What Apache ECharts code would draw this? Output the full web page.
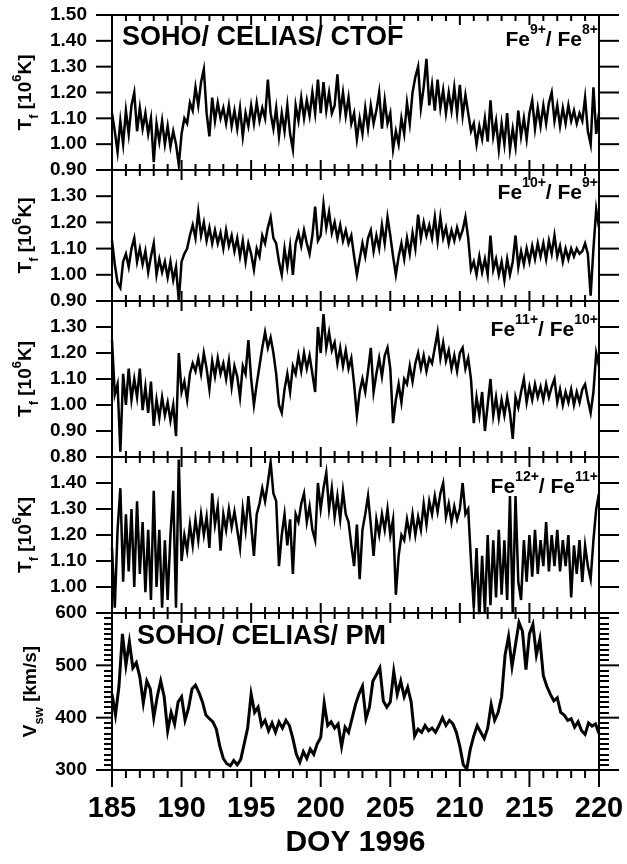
<!DOCTYPE html>
<html>
<head>
<meta charset="utf-8">
<script src="https://cdn.jsdelivr.net/npm/echarts@6/dist/echarts.min.js"></script>
<style>
  html, body { margin: 0; padding: 0; background: #fff; }
  #main { width: 627px; height: 864px; }
</style>
</head>
<body>
<div id="main"></div>
<script>
// sampling of the traces (day of year 1996)
const t0 = 185;
const dtFe = 0.2;   // Fe freeze-in temperatures
const dtV = 0.25;   // proton speed

// Fe9+/Fe8+
const fe98 = [
  1.12,1.05,0.97,1.09,1.00, 1.13,1.04,1.15,1.20,1.05, 1.14,1.06,1.12,1.04,1.10,
  0.93,1.08,1.01,1.09,1.00, 1.07,0.99,1.05,1.00,0.92, 1.04,1.10,1.08,1.16,1.13,
  1.22,1.15,1.24,1.29,1.12, 1.03,1.18,1.09,1.16,1.10, 1.14,1.08,1.15,1.07,1.13,
  1.06,1.14,1.03,1.12,1.07, 1.15,1.08,1.16,1.09,1.14, 1.10,1.25,1.12,1.06,1.14,
  1.03,1.12,1.05,1.15,1.04, 0.98,1.15,1.09,1.18,1.10, 1.17,1.11,1.20,1.12,1.25,
  1.12,1.24,1.13,1.20,1.12, 1.15,1.27,1.12,1.20,1.11, 1.18,1.08,1.12,1.02,1.10,
  1.04,1.14,1.06,1.15,1.08, 1.13,1.20,1.06,1.17,1.08, 1.12,0.98,1.05,1.00,1.10,
  1.04,1.16,1.08,1.20,1.26, 1.30,1.14,1.22,1.33,1.15, 1.23,1.13,1.25,1.14,1.21,
  1.12,1.20,1.13,1.22,1.12, 1.23,1.11,1.19,1.12,1.05, 1.08,1.00,1.07,1.02,1.10,
  1.01,1.17,1.03,1.09,0.98, 1.08,1.00,1.12,0.98,1.06, 0.99,1.13,1.03,1.10,1.02,
  1.12,1.17,1.06,1.14,1.07, 1.15,1.08,1.16,1.20,1.09, 1.15,1.07,1.14,1.08,1.15,
  1.09,1.13,1.08,1.12,1.09, 1.18,1.05,1.00,1.22,1.04, 1.12
];

// Fe10+/Fe9+
const fe109 = [
  1.13,1.04,0.97,0.95,1.05, 1.08,1.03,1.10,1.14,1.05, 1.10,1.04,1.09,1.01,1.07,
  1.12,1.00,1.06,1.01,1.05, 0.99,1.05,0.98,1.03,0.90, 1.05,1.08,1.10,1.15,1.19,
  1.14,1.24,1.15,1.20,1.13, 1.18,1.12,1.17,1.12,1.16, 1.10,1.17,1.11,1.15,1.09,
  1.14,1.07,1.13,1.05,1.12, 1.08,1.02,1.10,1.07,1.15, 1.12,1.18,1.22,1.14,1.12,
  1.05,1.00,1.10,1.03,1.11, 1.00,1.12,1.16,1.11,1.17, 1.12,1.08,1.15,1.26,1.13,
  1.15,1.27,1.18,1.24,1.16, 1.20,1.14,1.19,1.13,1.17, 1.12,1.15,1.07,1.00,1.06,
  1.12,1.07,1.14,1.17,1.09, 1.15,1.10,1.19,1.12,1.22, 1.15,1.07,1.00,1.07,1.12,
  1.06,1.14,1.08,1.16,1.10, 1.23,1.14,1.20,1.15,1.19, 1.14,1.22,1.13,1.22,1.14,
  1.18,1.12,1.17,1.13,1.18, 1.14,1.17,1.22,1.14,1.02, 1.05,1.00,1.07,1.01,1.06,
  1.00,1.15,1.02,1.06,1.00, 1.05,0.98,1.06,1.00,1.05, 1.15,1.03,1.09,1.04,1.10,
  1.05,1.11,1.06,1.12,1.07, 1.12,1.06,1.13,1.08,1.15, 1.07,1.11,1.05,1.10,1.06,
  1.10,1.07,1.10,1.08,1.09, 1.12,1.08,0.92,1.10,1.25, 1.18
];

// Fe11+/Fe10+
const fe1110 = [
  1.25,1.04,1.08,0.82,1.12, 1.00,1.14,1.02,1.10,1.03, 1.14,0.98,1.07,0.97,1.09,
  0.92,1.02,0.95,1.03,0.96, 1.01,0.94,1.00,0.88,1.20, 1.05,1.09,1.02,1.12,1.16,
  1.13,1.18,1.12,1.20,1.14, 1.06,1.17,1.11,1.18,1.12, 1.16,1.10,1.17,1.07,1.15,
  1.11,1.03,1.15,1.12,1.25, 1.10,1.00,1.08,1.15,1.22, 1.28,1.22,1.26,1.20,1.12,
  1.00,0.97,1.06,1.12,1.05, 1.15,1.12,1.19,1.13,1.20, 1.14,1.19,1.12,1.05,1.30,
  1.20,1.35,1.22,1.28,1.21, 1.24,1.16,1.22,1.15,1.21, 1.14,1.18,1.08,0.96,1.05,
  1.10,1.05,1.13,1.22,1.05, 1.12,1.18,1.11,1.19,1.22, 1.14,0.93,1.02,1.08,1.01,
  1.10,1.08,1.15,1.09,1.16, 1.20,1.14,1.19,1.13,1.18, 1.16,1.22,1.28,1.18,1.24,
  1.17,1.21,1.14,1.19,1.13, 1.20,1.22,1.14,1.18,1.10, 0.93,1.03,0.96,1.05,0.90,
  1.00,1.10,0.96,1.03,0.95, 1.02,0.96,1.03,0.97,0.87, 1.03,0.99,1.05,1.10,1.01,
  1.07,1.02,1.08,1.03,1.07, 1.02,1.08,1.03,1.07,1.10, 1.01,1.06,1.00,1.05,1.01,
  1.06,1.00,1.05,1.01,1.06, 1.08,1.02,0.97,1.05,1.20, 1.15
];

// Fe12+/Fe11+
const fe1211 = [
  1.15,0.92,1.22,1.38,1.02, 1.28,1.06,1.30,1.00,1.33, 1.05,1.25,0.98,1.22,0.95,
  1.37,1.00,1.22,0.92,1.18, 0.95,1.20,1.37,0.92,1.49, 1.10,1.20,1.14,1.24,1.16,
  1.26,1.18,1.28,1.20,1.27, 1.15,1.36,1.24,1.31,1.14, 1.28,1.22,1.30,1.23,1.29,
  1.22,1.15,1.30,1.22,1.35, 1.24,1.12,1.28,1.32,1.38, 1.33,1.40,1.48,1.36,1.33,
  1.08,1.20,1.28,1.16,1.26, 1.05,1.28,1.25,1.32,1.36, 1.25,1.31,1.22,1.18,1.40,
  1.30,1.38,1.44,1.30,1.38, 1.27,1.35,1.26,1.37,1.28, 1.25,1.16,1.08,1.24,1.03,
  1.22,1.28,1.35,1.24,1.12, 1.26,1.20,1.28,1.22,1.30, 1.20,1.26,0.97,1.12,1.20,
  1.18,1.26,1.20,1.28,1.20, 1.27,1.22,1.32,1.24,1.33, 1.28,1.35,1.29,1.36,1.40,
  1.27,1.32,1.25,1.31,1.26, 1.30,1.40,1.28,1.30,1.10, 0.92,1.15,0.88,1.12,0.90,
  1.20,0.93,1.18,0.96,1.22, 0.97,1.18,0.95,1.35,0.90, 1.35,1.02,0.95,1.18,1.02,
  1.20,1.04,1.22,1.05,1.18, 1.08,1.25,1.06,1.20,1.08, 1.22,1.06,1.18,1.08,1.20,
  0.96,1.16,1.05,1.18,1.02, 1.16,1.08,1.03,1.18,1.30, 1.36
];

// solar wind proton speed, km/s
const vsw = [
  445,405,460,560, 500,545,495,505, 478,428,470,455, 400,440,470,440,
  375,410,388,430, 440,395,418,455, 462,448,430,405, 398,392,378,345,
  322,312,308,318, 310,320,350,380, 445,410,420,385, 395,375,390,372,
  392,380,395,385, 360,330,315,335, 322,340,330,350, 362,428,385,392,
  380,388,345,382, 372,398,425,445, 460,398,420,470, 482,495,432,420,
  430,488,445,470, 440,458,430,365, 378,372,385,375, 380,372,385,400,
  385,395,388,372, 345,310,302,340, 365,385,372,360, 380,425,395,410,
  440,520,555,498, 540,582,565,492, 560,578,520,550, 480,460,445,432,
  438,410,405,395, 398,382,392,375, 368,390,384,388, 370
];

const ionLabels = [
  '{n|Fe}{s|9+}{n|/ Fe}{s|8+}',
  '{n|Fe}{s|10+}{n|/ Fe}{s|9+}',
  '{n|Fe}{s|11+}{n|/ Fe}{s|10+}',
  '{n|Fe}{s|12+}{n|/ Fe}{s|11+}'
];

const font = '"Liberation Sans", Arial, Helvetica, sans-serif';

// showMin/showMax: whether the end labels of each left axis are printed
const panels = [
  { top: 15,  height: 155, min: 0.9, max: 1.5, step: 0.1, showMin: true,  showMax: true,  data: fe98,   dt: dtFe, lw: 2.5, ion: ionLabels[0], ionTop: 23 },
  { top: 170, height: 131, min: 0.9, max: 1.4, step: 0.1, showMin: true,  showMax: false, data: fe109,  dt: dtFe, lw: 2.5, ion: ionLabels[1], ionTop: 176 },
  { top: 301, height: 156, min: 0.8, max: 1.4, step: 0.1, showMin: true,  showMax: false, data: fe1110, dt: dtFe, lw: 2.5, ion: ionLabels[2], ionTop: 313 },
  { top: 457, height: 156, min: 0.9, max: 1.5, step: 0.1, showMin: false, showMax: false, data: fe1211, dt: dtFe, lw: 2.5, ion: ionLabels[3], ionTop: 470 },
  { top: 613, height: 157, min: 300, max: 600, step: 100, showMin: true,  showMax: true,  data: vsw,    dt: dtV,  lw: 3 }
];

const black = { color: '#000', width: 2 };
const nameRich = {
  n: { fontSize: 19, fontWeight: 'bold', fontFamily: font, fill: '#000', lineHeight: 30 },
  b: { fontSize: 13, fontWeight: 'bold', fontFamily: font, fill: '#000', verticalAlign: 'bottom' },
  p: { fontSize: 13, fontWeight: 'bold', fontFamily: font, fill: '#000', verticalAlign: 'top' }
};

// frame tick marks: [x, y, dx1, dy1, dx2, dy2], offsets in pixels from the axis point
function frameTicks(p, i, last) {
  const d = [];
  for (let day = 185; day <= 220; day++) {
    const major = day % 5 === 0;
    const L = major ? 10 : 6;
    if (i === 0) d.push([day, p.max, 0, 0, 0, L]);
    if (last) d.push([day, p.min, 0, 0, 0, major ? 17 : 8]);
    else d.push([day, p.min, 0, -L, 0, L]);
  }
  const n = Math.round((p.max - p.min) / p.step);
  for (let k = 0; k <= n; k++) {
    const v = p.min + k * p.step;
    d.push([185, v, -16, 0, 0, 0]);
    d.push([220, v, 0, 0, 20, 0]);
  }
  return d;
}

let grids = [], xAxes = [], yAxes = [], series = [], graphics = [];
panels.forEach(function (p, i) {
  const last = i === panels.length - 1;
  grids.push({ left: 112, right: 28, top: p.top, height: p.height });

  xAxes.push({
    type: 'value', gridIndex: i, position: 'bottom', min: 185, max: 220, interval: 5,
    axisLine: { show: true, onZero: false, lineStyle: black },
    axisTick: { show: false },
    splitLine: { show: false },
    axisLabel: { show: last, margin: 24, color: '#000', fontSize: 29, fontWeight: 'bold', fontFamily: font },
    name: last ? 'DOY 1996' : '', nameLocation: 'middle', nameGap: 58,
    nameTextStyle: { color: '#000', fontSize: 30, fontWeight: 'bold', fontFamily: font }
  });
  xAxes.push({
    type: 'value', gridIndex: i, position: 'top', min: 185, max: 220, interval: 5,
    axisLine: { show: true, onZero: false, lineStyle: black },
    axisTick: { show: false },
    splitLine: { show: false }, axisLabel: { show: false }
  });

  yAxes.push({
    type: 'value', gridIndex: i, position: 'left', min: p.min, max: p.max, interval: p.step,
    axisLine: { show: true, onZero: false, lineStyle: black },
    axisTick: { show: false },
    minorTick: { show: last, splitNumber: 10, length: 8, lineStyle: black },
    splitLine: { show: false },
    axisLabel: {
      margin: 25, color: '#000', fontSize: 19, fontWeight: 'bold', fontFamily: font,
      showMinLabel: p.showMin, showMaxLabel: p.showMax,
      formatter: last ? '{value}' : function (v) { return v.toFixed(2); }
    }
  });
  yAxes.push({
    type: 'value', gridIndex: i, position: 'right', min: p.min, max: p.max, interval: p.step,
    axisLine: { show: true, onZero: false, lineStyle: black },
    axisTick: { show: false },
    minorTick: { show: last, splitNumber: 10, length: 10, lineStyle: black },
    splitLine: { show: false }, axisLabel: { show: false }
  });

  // rotated axis title
  graphics.push({
    type: 'text', x: last ? 31 : 26, y: p.top + p.height / 2, rotation: Math.PI / 2,
    style: {
      text: last ? '{n|V}{b|sw}{n| [km/s]}' : '{n|T}{b|f}{n| [10}{p|6}{n|K]}',
      align: 'center', verticalAlign: 'middle', fill: '#000',
      fontSize: 19, fontWeight: 'bold', fontFamily: font, rich: nameRich
    }
  });

  series.push({
    type: 'line', xAxisIndex: 2 * i, yAxisIndex: 2 * i,
    data: p.data.map(function (v, k) { return [t0 + k * p.dt, v]; }),
    showSymbol: false, symbol: 'none', clip: true,
    lineStyle: { color: '#000', width: p.lw, join: 'miter' }
  });

  // tick marks on the frame, placed through the panel's own axes
  series.push({
    type: 'custom', xAxisIndex: 2 * i, yAxisIndex: 2 * i, silent: true, clip: false, z: 3,
    encode: { x: 0, y: 1 },
    data: frameTicks(p, i, last),
    renderItem: function (params, api) {
      const c = api.coord([api.value(0), api.value(1)]);
      return {
        type: 'line',
        shape: { x1: c[0] + api.value(2), y1: c[1] + api.value(3), x2: c[0] + api.value(4), y2: c[1] + api.value(5) },
        style: { stroke: '#000', lineWidth: 2 }
      };
    }
  });
});

const titleStyle = { color: '#000', fontSize: 27, fontWeight: 'bold', fontFamily: font };
let titles = [
  { text: 'SOHO/ CELIAS/ CTOF', left: 122, top: 24, padding: 0, textStyle: titleStyle },
  { text: 'SOHO/ CELIAS/ PM', left: 137, top: 623, padding: 0, textStyle: titleStyle }
];
panels.forEach(function (p) {
  if (!p.ion) return;
  titles.push({
    text: p.ion, right: 29, top: p.ionTop, padding: 0,
    textStyle: {
      color: '#000', fontFamily: font, fontWeight: 'bold',
      rich: {
        n: { fontSize: 21, fontWeight: 'bold', fontFamily: font, color: '#000', lineHeight: 34 },
        s: { fontSize: 14, fontWeight: 'bold', fontFamily: font, color: '#000', verticalAlign: 'top' }
      }
    }
  });
});

const chart = echarts.init(document.getElementById('main'));
chart.setOption({
  animation: false,
  title: titles,
  grid: grids,
  xAxis: xAxes,
  yAxis: yAxes,
  graphic: graphics,
  series: series
});
</script>
</body>
</html>
